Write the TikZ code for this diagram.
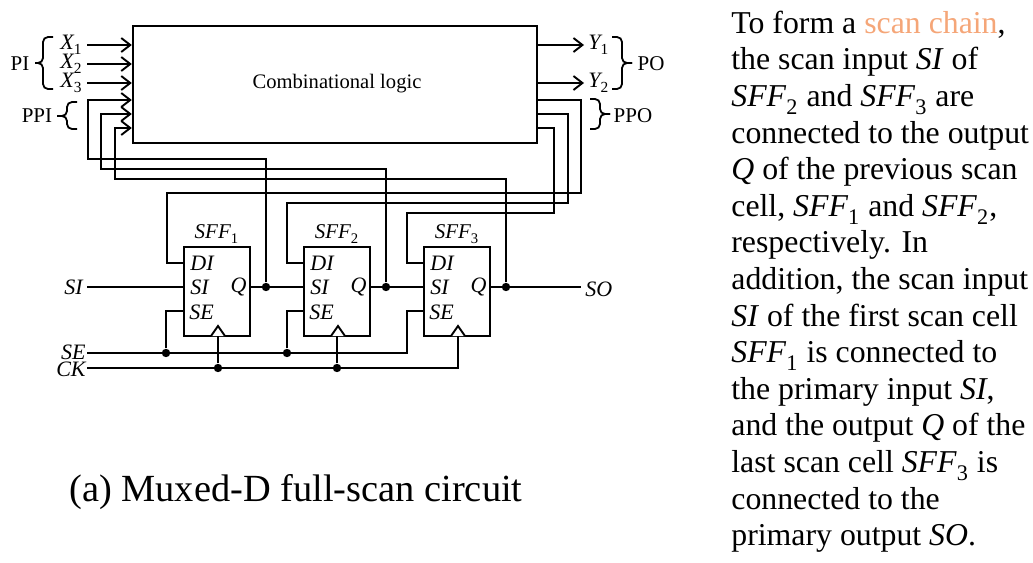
\documentclass[tikz,border=0pt]{standalone}
\usepackage{fontspec}
\setmainfont{Liberation Serif}
\usetikzlibrary{arrows.meta}
\definecolor{myorange}{rgb}{0.96,0.65,0.47}
\newcommand{\idx}[2]{\textit{#1}\raisebox{-0.2ex}{\textsubscript{\upshape #2}}}
\tikzset{
  wire/.style={line width=.95pt},
  inarrow/.style={wire,->,>={Straight Barb[length=4.5pt,width=7pt]}},
  sffbox/.style={draw,line width=1.2pt,minimum width=33pt,minimum height=44.5pt,inner sep=0pt},
  pin/.style={font=\fontsize{11}{11}\selectfont\itshape,inner sep=0pt},
  sig/.style={font=\fontsize{11}{11}\selectfont\itshape,inner sep=2pt},
  grp/.style={font=\fontsize{10.5}{10.5}\selectfont,inner sep=0pt},
  jdot/.style={circle,fill,inner sep=0pt,minimum size=4.2pt},
  grpbrace/.style={line width=.9pt,rounded corners=2.5pt},
}
\begin{document}
\begin{tikzpicture}[x=0.5pt,y=-0.5pt]
  \useasboundingbox (0,0) rectangle (1033,562);
  \node[draw,line width=1.2pt,minimum width=202pt,minimum height=58.5pt] (logic) at (335,84.5) {};
  \node[inner sep=0pt,font=\fontsize{10.3}{10.3}\selectfont] (logiclabel) at (337,84) {Combinational logic};
  % primary inputs and outputs
  \foreach \n/\ty in {1/45,2/64,3/83} {
    \node[sig,anchor=east] (x\n) at (87,\ty) {\idx{X}{\n}};
    \draw[inarrow] (x\n.east) -- (x\n.east -| logic.west);}
  \foreach \n/\ty in {1/45,2/83} {
    \node[sig,anchor=west] (y\n) at (584,\ty) {\idx{Y}{\n}};
    \draw[inarrow] (y\n.west -| logic.east) -- (y\n.west);}
  \node[grp] (pi) at (20,64) {PI};
  \node[grp] (ppi) at (37,116) {PPI};
  \node[grp] (po) at (651,64) {PO};
  \node[grp] (ppo) at (633,116) {PPO};
  \foreach \tend/\tspine/\ttip/\ta/\tm/\tb in {53/43/35/37/63/89,77/67/57/102/116/129,612/622/632/37/63/89,590/600/610/99/114/129} {
    \draw[grpbrace] (\tend,\ta) -- (\tspine,\ta) -- (\tspine,\tm) -- (\ttip,\tm);
    \draw[grpbrace] (\ttip,\tm) -- (\tspine,\tm) -- (\tspine,\tb) -- (\tend,\tb);}
  % scan cells
  \foreach \n/\tx in {1/217,2/337,3/457} {
    \node[sffbox] (sff\n) at (\tx,291.5) {};
    \node[sig,inner sep=0pt,above=0pt,font=\fontsize{10.5}{10.5}\selectfont\itshape] (sffname\n) at (\tx,244) {\idx{SFF}{\n}};
    \coordinate (di\n) at (\tx-33,263);
    \coordinate (si\n) at (\tx-33,287);
    \coordinate (se\n) at (\tx-33,311);
    \coordinate (q\n) at (\tx+33,287);
    \node[pin,anchor=west] (dil\n) at (\tx-27,263) {DI};
    \node[pin,anchor=west] (sil\n) at (\tx-27,287) {SI};
    \node[pin,anchor=west] (sel\n) at (\tx-28,312) {SE};
    \node[pin,anchor=east] (ql\n) at (\tx+30,287) {Q};
    \coordinate (ck\n) at (\tx+1,336);
    \draw[wire,fill=white] (\tx-6,336) -- (\tx+1,326) -- (\tx+8,336);}
  % scan path
  \node[sig,anchor=east] (si) at (87,287) {SI};
  \node[sig,anchor=east,inner sep=.5pt] (se) at (87,352) {SE};
  \node[sig,anchor=east,inner sep=.5pt] (ck) at (87,369) {CK};
  \node[sig,anchor=west] (so) at (581,289) {SO};
  \draw[wire] (si.east |- si1) -- (si1);
  \draw[wire] (q1) -- (si2);
  \draw[wire] (q2) -- (si3);
  \draw[wire] (q3) -- (so.west |- q3);
  \node[jdot] (qdot1) at (266,287) {};
  \node[jdot] (qdot2) at (386,287) {};
  \node[jdot] (qdot3) at (506,287) {};
  % feedback
  \coordinate (ppi1) at (logic.west |- 0,100);
  \coordinate (ppi2) at (logic.west |- 0,114);
  \coordinate (ppi3) at (logic.west |- 0,128);
  \coordinate (ppo1) at (logic.east |- 0,100);
  \coordinate (ppo2) at (logic.east |- 0,114);
  \coordinate (ppo3) at (logic.east |- 0,128);
  \draw[inarrow] (qdot1) |- (88,159) |- (ppi1);
  \draw[inarrow] (qdot2) |- (101,169) |- (ppi2);
  \draw[inarrow] (qdot3) |- (115,179) |- (ppi3);
  \draw[wire] (ppo1) -| (581,193) -| (167,263) -- (di1);
  \draw[wire] (ppo2) -| (568,203) -| (287,263) -- (di2);
  \draw[wire] (ppo3) -| (554,213) -| (407,263) -- (di3);
  % scan enable and clock
  \node[jdot] (sedot1) at (166,353) {};
  \node[jdot] (sedot2) at (287,353) {};
  \node[jdot] (ckdot1) at (218,368) {};
  \node[jdot] (ckdot2) at (337,368) {};
  \draw[wire] (se.east |- sedot1) -- (407,353) |- (se3);
  \draw[wire] (sedot1) |- (se1);
  \draw[wire] (sedot2) |- (se2);
  \draw[wire] (ck.east |- ckdot1) -- (458,368) -- (ck3);
  \draw[wire] (ckdot1) -- (ckdot1 |- ck1);
  \draw[wire] (ckdot2) -- (ckdot2 |- ck2);
  \node[anchor=west,inner sep=0pt,font=\fontsize{19.2}{19.2}\selectfont] (caption) at (69,492) {(a) Muxed-D full-scan circuit};
  \node[anchor=north west,inner sep=0pt,align=left,font=\fontsize{15.9}{18.3}\selectfont] (note) at (731,10.5) {%
    To form a \textcolor{myorange}{scan chain},\\
    the scan input \textit{SI} of\\
    \idx{SFF}{2} and \idx{SFF}{3} are\\
    connected to the output\\
    \textit{Q} of the previous scan\\
    cell, \idx{SFF}{1} and \idx{SFF}{2},\\
    respectively. In\\
    addition, the scan input\\
    \textit{SI} of the first scan cell\\
    \idx{SFF}{1} is connected to\\
    the primary input \textit{SI},\\
    and the output \textit{Q} of the\\
    last scan cell \idx{SFF}{3} is\\
    connected to the\\
    primary output \textit{SO}.};
\end{tikzpicture}
\end{document}
